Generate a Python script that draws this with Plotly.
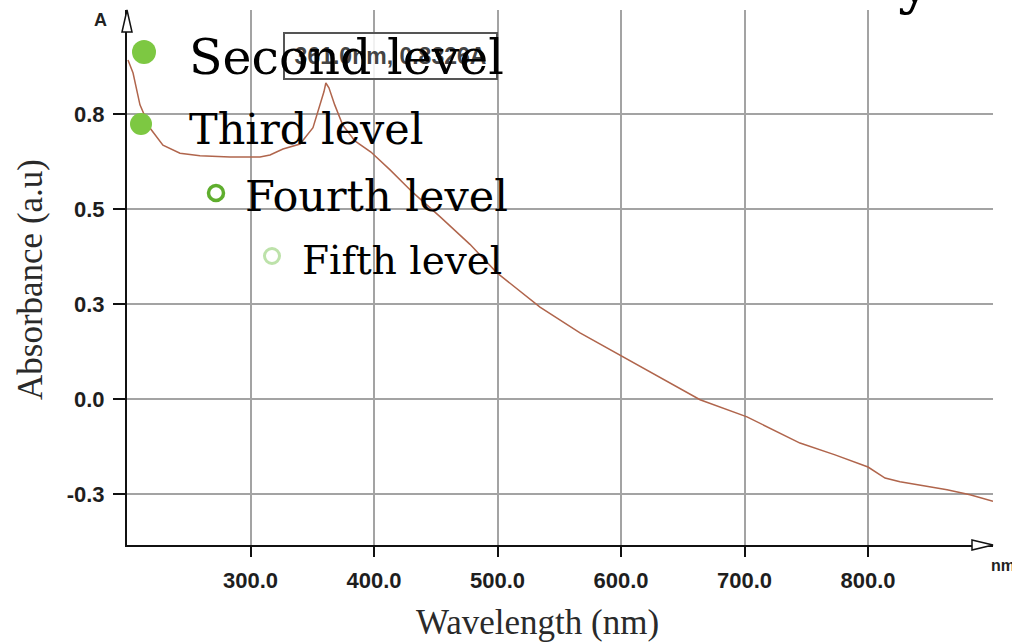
import plotly.graph_objects as go

# ---- data ----
wavelength_nm = [200.8, 204.9, 210.5, 218.6, 229.1, 242.9, 259.1, 283.4, 307.7, 315.8,
                 326.3, 340.1, 350.6, 355.5, 359.5, 361.0, 363.5, 368.2, 374.7, 384.5,
                 397.5, 413.0, 431.6, 453.4, 477.7, 499.6, 534.4, 566.8, 599.2, 631.6,
                 664.0, 702.0, 744.9, 773.3, 800.0, 813.8, 825.9, 846.2, 864.0, 882.6, 901.2]
absorbance = [0.893, 0.859, 0.775, 0.714, 0.669, 0.648, 0.641, 0.638, 0.638, 0.643,
              0.659, 0.672, 0.715, 0.767, 0.810, 0.8326, 0.820, 0.775, 0.722, 0.680,
              0.651, 0.604, 0.544, 0.481, 0.408, 0.333, 0.243, 0.175, 0.117, 0.057,
              -0.001, -0.046, -0.115, -0.146, -0.178, -0.207, -0.217, -0.228, -0.238, -0.251, -0.268]

x_tickvals = [300, 400, 500, 600, 700, 800]
x_ticktext = ["300.0", "400.0", "500.0", "600.0", "700.0", "800.0"]
y_tickvals = [0.75, 0.5, 0.25, 0.0, -0.25]
y_ticktext = ["0.8", "0.5", "0.3", "0.0", "-0.3"]

peak_label = "361.0nm, 0.8326A"
levels = ["Second level", "Third level", "Fourth level", "Fifth level"]

# ---- layout geometry (pixels) ----
W, H = 1012, 643
L, R, T, B = 127, 19, 10, 98
PW, PH = W - L - R, H - T - B


def fx(xp):
    return (xp - L) / PW


def fy(yp):
    return (H - B - yp) / PH


fig = go.Figure()
fig.add_trace(go.Scatter(
    x=wavelength_nm, y=absorbance, mode="lines",
    line=dict(color="#b0654c", width=1.5), hoverinfo="skip", showlegend=False))

tickfont = dict(family="Liberation Sans, Arial, sans-serif", size=22, color="#1e1e1e", weight="bold")

fig.update_xaxes(range=[200, 901.2], tickvals=x_tickvals, ticktext=x_ticktext,
                 showgrid=True, gridcolor="#a3a3a3", gridwidth=2,
                 showline=True, linecolor="#111", linewidth=2,
                 ticks="outside", ticklen=10, tickwidth=2, tickcolor="#111",
                 tickfont=tickfont, ticklabelstandoff=5, zeroline=False)
fig.update_yaxes(range=[-0.3832, 1.0247], tickvals=y_tickvals, ticktext=y_ticktext,
                 showgrid=True, gridcolor="#a3a3a3", gridwidth=2,
                 showline=True, linecolor="#111", linewidth=2,
                 ticks="outside", ticklen=12, tickwidth=2, tickcolor="#111",
                 tickfont=tickfont, ticklabelstandoff=4, zeroline=False)

shapes = []
# open arrow heads on the axes
shapes.append(dict(type="path", xref="paper", yref="paper",
                   path=f"M {fx(122)},{fy(32)} L {fx(127)},{fy(10)} L {fx(132)},{fy(32)} Z",
                   fillcolor="white", line=dict(color="#111", width=1.5), layer="above"))
shapes.append(dict(type="path", xref="paper", yref="paper",
                   path=f"M {fx(972)},{fy(540)} L {fx(993)},{fy(545)} L {fx(972)},{fy(550)} Z",
                   fillcolor="white", line=dict(color="#111", width=1.5), layer="above"))


def bullet(cx, cy, r, fill, line_color, lw):
    return dict(type="circle", xref="paper", yref="paper",
                x0=fx(cx - r), x1=fx(cx + r), y0=fy(cy + r), y1=fy(cy - r),
                fillcolor=fill, line=dict(color=line_color, width=lw), layer="above")


shapes.append(bullet(144, 52, 12, "#7dc842", "#7dc842", 0))
shapes.append(bullet(141, 124, 11, "#7dc842", "#7dc842", 0))
shapes.append(bullet(216, 193, 7.5, "rgba(0,0,0,0)", "#5fae2e", 3.5))
shapes.append(bullet(272, 256, 7.5, "rgba(0,0,0,0)", "#bde2aa", 3))

annotations = []
# peak readout box
annotations.append(dict(xref="paper", yref="paper", x=fx(390), y=fy(56),
                        text=peak_label, showarrow=False,
                        font=dict(family="Liberation Sans, Arial, sans-serif", size=23,
                                  color="#444", weight="bold"),
                        bgcolor="rgba(255,255,255,0.85)", bordercolor="#555", borderwidth=2,
                        width=207, height=40, borderpad=2,
                        xanchor="center", yanchor="middle"))

serif = "DejaVu Serif, serif"
level_specs = [(187, 57, 49), (187, 129, 43), (243, 196, 43), (300, 260, 39)]
for txt, (lx, ly, fs) in zip(levels, level_specs):
    annotations.append(dict(xref="paper", yref="paper", x=fx(lx), y=fy(ly), text=txt,
                            showarrow=False, xanchor="left", yanchor="middle",
                            font=dict(family=serif, size=fs, color="#000")))

# axis end labels
annotations.append(dict(xref="paper", yref="paper", x=fx(100), y=fy(20), text="A",
                        showarrow=False, xanchor="center", yanchor="middle",
                        font=dict(family="Liberation Sans, Arial", size=18, color="#222", weight="bold")))
annotations.append(dict(xref="paper", yref="paper", x=fx(989), y=fy(565), text="nm",
                        showarrow=False, xanchor="left", yanchor="middle",
                        font=dict(family="Liberation Sans, Arial", size=16, color="#222", weight="bold")))

# axis titles
annotations.append(dict(xref="paper", yref="paper", x=fx(537), y=fy(622), text="Wavelength (nm)",
                        showarrow=False, xanchor="center", yanchor="middle",
                        font=dict(family="Liberation Serif, Times New Roman, serif", size=35, color="#2a2a2a")))
annotations.append(dict(xref="paper", yref="paper", x=fx(30), y=fy(280), text="Absorbance (a.u)",
                        showarrow=False, xanchor="center", yanchor="middle", textangle=-90,
                        font=dict(family="Liberation Serif, Times New Roman, serif", size=35, color="#2a2a2a")))

# cut-off glyph of a heading at the very top right
annotations.append(dict(xref="paper", yref="paper", x=fx(895), y=fy(18), text="y",
                        showarrow=False, xanchor="left", yanchor="bottom",
                        font=dict(family="DejaVu Serif, serif", size=60, color="#000")))

fig.update_layout(width=W, height=H, autosize=False,
                  margin=dict(l=L, r=R, t=T, b=B, pad=0),
                  paper_bgcolor="white", plot_bgcolor="white",
                  shapes=shapes, annotations=annotations, showlegend=False)

fig.write_html("out.html", config={"displayModeBar": False},
               post_script="document.body.style.margin='0';document.body.style.overflow='hidden';")
